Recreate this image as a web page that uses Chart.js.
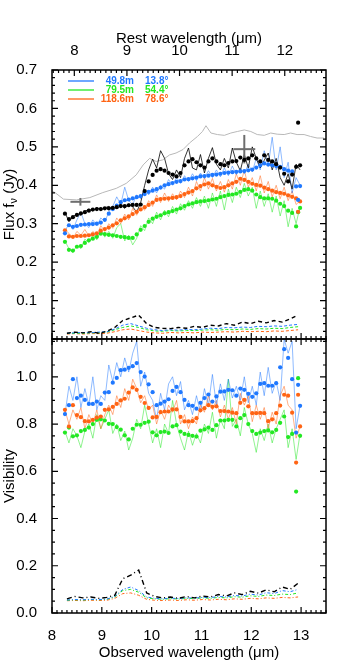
<!doctype html>
<html lang="en">
  <head>
    <meta charset="utf-8">
    <title>Flux and visibility spectra</title>
    <style>
      * { margin: 0; padding: 0; }
      body { background: white; }
      .chartBox { width: 343px; height: 668px; }
    </style>
  </head>
  <body>
    <div class="chartBox">
      <canvas id="specChart" width="343" height="668"></canvas>
    </div>
    <script src="https://cdn.jsdelivr.net/npm/chart.js"></script>
    <script>
    // observed wavelength grid (micron) for the spectra
    const lam = [8.26, 8.34, 8.42, 8.50, 8.58, 8.66, 8.74, 8.82, 8.90, 8.98,
      9.06, 9.14, 9.22, 9.30, 9.38, 9.46, 9.54, 9.62, 9.70, 9.78,
      9.86, 9.94, 10.02, 10.10, 10.18, 10.26, 10.34, 10.42, 10.50, 10.58,
      10.66, 10.74, 10.82, 10.90, 10.98, 11.06, 11.14, 11.22, 11.30, 11.38,
      11.46, 11.54, 11.62, 11.70, 11.78, 11.86, 11.94, 12.02, 12.10, 12.18,
      12.26, 12.34, 12.42, 12.50, 12.58, 12.66, 12.74, 12.82, 12.90, 12.98];
    const tailLam = [12.94];

    // correlated / total flux, smoothed (dots)
    const fluxBlack = [0.326, 0.312, 0.317, 0.323, 0.327, 0.330, 0.334, 0.337, 0.338, 0.338,
      0.340, 0.340, 0.341, 0.343, 0.346, 0.346, 0.348, 0.349, 0.349, 0.350,
      0.385, 0.410, 0.427, 0.438, 0.442, 0.438, 0.432, 0.428, 0.423, 0.432,
      0.452, 0.462, 0.468, 0.460, 0.452, 0.446, 0.462, 0.470, 0.462, 0.455,
      0.452, 0.458, 0.462, 0.463, 0.472, 0.466, 0.470, 0.478, 0.470, 0.462,
      0.478, 0.466, 0.462, 0.455, 0.446, 0.430, 0.410, 0.428, 0.448, 0.452];
    const fluxBlue = [0.275, 0.296, 0.292, 0.294, 0.297, 0.298, 0.299, 0.299, 0.300, 0.303,
      0.310, 0.326, 0.338, 0.347, 0.356, 0.361, 0.363, 0.366, 0.369, 0.372,
      0.377, 0.383, 0.386, 0.390, 0.394, 0.400, 0.403, 0.406, 0.409, 0.411,
      0.415, 0.416, 0.418, 0.420, 0.423, 0.424, 0.425, 0.427, 0.428, 0.430,
      0.432, 0.433, 0.434, 0.435, 0.436, 0.437, 0.439, 0.441, 0.446, 0.452,
      0.457, 0.454, 0.452, 0.450, 0.448, 0.442, 0.438, 0.436, 0.397, 0.398];
    const fluxGreen = [0.253, 0.232, 0.230, 0.240, 0.242, 0.250, 0.257, 0.261, 0.266, 0.274,
      0.273, 0.271, 0.270, 0.268, 0.266, 0.265, 0.263, 0.263, 0.272, 0.284,
      0.294, 0.305, 0.313, 0.318, 0.322, 0.327, 0.330, 0.333, 0.337, 0.340,
      0.346, 0.350, 0.353, 0.356, 0.358, 0.359, 0.361, 0.363, 0.365, 0.369,
      0.372, 0.375, 0.376, 0.378, 0.383, 0.388, 0.390, 0.386, 0.376, 0.369,
      0.366, 0.366, 0.365, 0.360, 0.352, 0.346, 0.334, 0.328, 0.293, 0.341];
    const fluxOrange = [0.283, 0.267, 0.266, 0.268, 0.268, 0.269, 0.270, 0.272, 0.275, 0.282,
      0.286, 0.290, 0.296, 0.301, 0.309, 0.314, 0.319, 0.325, 0.331, 0.337,
      0.343, 0.349, 0.355, 0.362, 0.364, 0.365, 0.366, 0.367, 0.369, 0.372,
      0.377, 0.381, 0.385, 0.392, 0.398, 0.402, 0.405, 0.400, 0.396, 0.393,
      0.395, 0.400, 0.405, 0.409, 0.417, 0.414, 0.409, 0.404, 0.401, 0.399,
      0.394, 0.390, 0.386, 0.382, 0.380, 0.378, 0.374, 0.370, 0.366, 0.358];
    const tailFluxBlack = [0.563];
    const tailFluxBlue = [0.362];
    const tailFluxGreen = [0.330];
    const tailFluxOrange = [0.331];

    // unsmoothed flux (thin lines)
    const rawFluxBlack = [0.330, 0.305, 0.318, 0.326, 0.322, 0.332, 0.338, 0.333, 0.342, 0.336,
      0.341, 0.345, 0.337, 0.346, 0.350, 0.340, 0.352, 0.344, 0.330, 0.355,
      0.400, 0.440, 0.468, 0.445, 0.490, 0.470, 0.430, 0.415, 0.440, 0.420,
      0.470, 0.497, 0.445, 0.440, 0.480, 0.432, 0.470, 0.498, 0.455, 0.440,
      0.470, 0.445, 0.497, 0.460, 0.438, 0.480, 0.445, 0.500, 0.470, 0.445,
      0.465, 0.484, 0.440, 0.470, 0.420, 0.400, 0.430, 0.390, 0.455, 0.440];
    const rawFluxBlue = [0.280, 0.300, 0.285, 0.310, 0.330, 0.300, 0.290, 0.310, 0.295, 0.315,
      0.305, 0.330, 0.345, 0.370, 0.350, 0.395, 0.360, 0.350, 0.375, 0.365,
      0.390, 0.375, 0.395, 0.380, 0.400, 0.390, 0.415, 0.400, 0.420, 0.405,
      0.425, 0.410, 0.430, 0.412, 0.432, 0.418, 0.438, 0.420, 0.440, 0.422,
      0.445, 0.425, 0.450, 0.428, 0.445, 0.430, 0.455, 0.435, 0.470, 0.440,
      0.490, 0.450, 0.525, 0.440, 0.500, 0.420, 0.460, 0.380, 0.420, 0.400];
    const rawFluxGreen = [0.255, 0.235, 0.225, 0.245, 0.235, 0.260, 0.250, 0.272, 0.258, 0.285,
      0.265, 0.280, 0.262, 0.290, 0.300, 0.255, 0.270, 0.245, 0.262, 0.295,
      0.282, 0.315, 0.300, 0.330, 0.310, 0.335, 0.318, 0.345, 0.325, 0.352,
      0.335, 0.360, 0.340, 0.368, 0.345, 0.372, 0.340, 0.380, 0.345, 0.385,
      0.336, 0.390, 0.355, 0.395, 0.368, 0.405, 0.372, 0.395, 0.340, 0.385,
      0.345, 0.378, 0.330, 0.372, 0.320, 0.360, 0.292, 0.340, 0.300, 0.345];
    const rawFluxOrange = [0.285, 0.275, 0.262, 0.280, 0.270, 0.285, 0.268, 0.280, 0.270, 0.295,
      0.280, 0.300, 0.288, 0.315, 0.300, 0.325, 0.310, 0.340, 0.322, 0.345,
      0.335, 0.360, 0.345, 0.375, 0.355, 0.380, 0.358, 0.378, 0.362, 0.385,
      0.368, 0.395, 0.372, 0.410, 0.385, 0.420, 0.390, 0.418, 0.385, 0.410,
      0.382, 0.415, 0.390, 0.430, 0.400, 0.440, 0.395, 0.420, 0.385, 0.425,
      0.380, 0.410, 0.370, 0.400, 0.365, 0.395, 0.360, 0.385, 0.350, 0.360];

    // single-dish spectrum (grey line) and two reference photometry points
    const grayLam = [8.00, 8.06, 8.23, 8.49, 8.76, 9.02, 9.29, 9.49, 9.69, 9.83,
      9.96, 10.09, 10.22, 10.36, 10.49, 10.63, 10.76, 10.92, 11.02, 11.09,
      11.19, 11.32, 11.46, 11.59, 11.72, 11.86, 11.99, 12.12, 12.26, 12.39,
      12.52, 12.66, 12.79, 12.92, 13.06, 13.19, 13.32, 13.46];
    const grayFlux = [0.385, 0.381, 0.364, 0.362, 0.368, 0.381, 0.392, 0.405, 0.427, 0.453,
      0.470, 0.462, 0.466, 0.479, 0.484, 0.493, 0.510, 0.527, 0.540, 0.555,
      0.536, 0.532, 0.530, 0.536, 0.540, 0.544, 0.540, 0.532, 0.530, 0.536,
      0.533, 0.532, 0.536, 0.532, 0.532, 0.527, 0.523, 0.523];
    const crossLam = [8.57, 11.86];
    const crossFlux = [0.357, 0.494];
    const crossLamErr = [0.20, 0.22];
    const crossFluxErr = [0.010, 0.037];

    // uncertainties on a coarser grid
    const errLam = [8.30, 8.46, 8.62, 8.78, 8.94, 9.10, 9.26, 9.42, 9.58, 9.74,
      9.90, 10.06, 10.22, 10.38, 10.54, 10.70, 10.86, 11.02, 11.18, 11.34,
      11.50, 11.66, 11.82, 11.98, 12.14, 12.30, 12.46, 12.62, 12.78, 12.94];
    const fluxErrBlack = [0.015, 0.018, 0.016, 0.019, 0.015, 0.020, 0.030, 0.048, 0.055, 0.062,
      0.040, 0.030, 0.028, 0.027, 0.030, 0.028, 0.033, 0.030, 0.036, 0.034,
      0.040, 0.036, 0.044, 0.040, 0.046, 0.042, 0.048, 0.044, 0.052, 0.062];
    const fluxErrBlue = [0.015, 0.016, 0.017, 0.016, 0.018, 0.019, 0.026, 0.036, 0.040, 0.034,
      0.028, 0.024, 0.022, 0.024, 0.023, 0.025, 0.024, 0.026, 0.028, 0.027,
      0.030, 0.029, 0.031, 0.030, 0.033, 0.032, 0.034, 0.033, 0.036, 0.038];
    const fluxErrGreen = [0.014, 0.015, 0.015, 0.016, 0.016, 0.018, 0.024, 0.030, 0.034, 0.030,
      0.024, 0.021, 0.020, 0.022, 0.021, 0.022, 0.022, 0.023, 0.024, 0.023,
      0.025, 0.024, 0.026, 0.025, 0.027, 0.026, 0.028, 0.027, 0.030, 0.032];
    const fluxErrOrange = [0.013, 0.014, 0.013, 0.014, 0.014, 0.015, 0.019, 0.024, 0.026, 0.022,
      0.018, 0.016, 0.015, 0.017, 0.016, 0.017, 0.016, 0.018, 0.017, 0.018,
      0.019, 0.018, 0.020, 0.019, 0.020, 0.019, 0.021, 0.020, 0.022, 0.024];

    // visibilities, smoothed (dots)
    const visBlue = [0.842, 0.880, 0.990, 0.910, 0.920, 0.902, 0.885, 0.885, 0.895, 0.885,
      0.933, 0.935, 0.975, 0.995, 1.028, 1.030, 1.038, 1.045, 1.058, 1.020,
      1.001, 0.968, 0.935, 0.880, 0.886, 0.895, 0.905, 0.940, 0.957, 0.935,
      0.902, 0.880, 0.877, 0.865, 0.890, 0.910, 0.925, 0.895, 0.917, 0.937,
      0.938, 0.945, 0.943, 0.920, 0.950, 0.945, 0.928, 0.915, 0.930, 0.970,
      0.973, 0.962, 0.962, 0.973, 1.040, 1.117, 1.080, 0.990, 0.764, 0.877];
    const visGreen = [0.764, 0.785, 0.748, 0.752, 0.770, 0.775, 0.785, 0.800, 0.818, 0.820,
      0.815, 0.801, 0.800, 0.787, 0.776, 0.752, 0.735, 0.780, 0.797, 0.797,
      0.805, 0.810, 0.765, 0.752, 0.766, 0.768, 0.762, 0.790, 0.795, 0.768,
      0.758, 0.754, 0.750, 0.747, 0.772, 0.777, 0.785, 0.775, 0.795, 0.815,
      0.815, 0.818, 0.818, 0.790, 0.825, 0.838, 0.800, 0.770, 0.758, 0.764,
      0.770, 0.773, 0.765, 0.775, 0.805, 0.832, 0.745, 0.758, 0.514, 0.750];
    const visOrange = [0.860, 0.790, 0.880, 0.838, 0.829, 0.812, 0.811, 0.818, 0.827, 0.832,
      0.860, 0.862, 0.873, 0.885, 0.900, 0.907, 0.933, 0.955, 0.945, 0.915,
      0.889, 0.868, 0.828, 0.830, 0.850, 0.853, 0.853, 0.862, 0.862, 0.830,
      0.811, 0.811, 0.812, 0.825, 0.858, 0.867, 0.880, 0.873, 0.875, 0.855,
      0.855, 0.853, 0.848, 0.846, 0.890, 0.902, 0.875, 0.846, 0.846, 0.847,
      0.846, 0.812, 0.820, 0.846, 0.878, 0.924, 0.920, 0.848, 0.637, 0.790];
    const tailVisBlue = [0.966];
    const tailVisGreen = [0.994];
    const tailVisOrange = [0.924];

    // unsmoothed visibilities (thin lines)
    const rawVisBlue = [0.84, 0.96, 0.90, 1.00, 0.87, 0.95, 0.88, 1.00, 0.86, 0.92,
      0.90, 1.05, 0.98, 1.06, 1.00, 1.08, 1.02, 1.10, 1.15, 0.96,
      1.02, 0.93, 0.90, 0.82, 0.93, 0.86, 0.97, 1.00, 0.92, 0.98,
      0.86, 0.90, 0.84, 0.92, 0.85, 0.95, 0.88, 1.01, 0.88, 0.97,
      0.90, 0.99, 0.91, 0.96, 0.90, 1.00, 0.89, 0.96, 0.88, 1.02,
      0.92, 1.04, 0.93, 0.98, 0.90, 1.16, 1.10, 1.15, 0.78, 0.88];
    const rawVisGreen = [0.77, 0.72, 0.78, 0.75, 0.70, 0.77, 0.80, 0.74, 0.84, 0.78,
      0.82, 0.86, 0.76, 0.80, 0.73, 0.77, 0.69, 0.74, 0.82, 0.78,
      0.88, 0.80, 0.72, 0.78, 0.70, 0.80, 0.76, 0.90, 0.80, 0.74,
      0.69, 0.77, 0.71, 0.76, 0.72, 0.80, 0.76, 0.85, 0.74, 0.82,
      0.78, 0.99, 0.79, 0.82, 0.75, 0.87, 0.80, 0.76, 0.68, 0.78,
      0.73, 0.80, 0.72, 0.78, 0.82, 0.86, 0.70, 0.78, 0.65, 0.76];
    const rawVisOrange = [0.86, 0.80, 0.86, 0.82, 0.87, 0.78, 0.84, 0.80, 0.86, 0.78,
      0.84, 0.88, 0.84, 0.92, 0.87, 0.95, 0.90, 0.99, 0.95, 0.89,
      0.92, 0.86, 0.88, 0.80, 0.86, 0.82, 0.88, 0.85, 0.90, 0.80,
      0.84, 0.78, 0.83, 0.80, 0.88, 0.85, 0.92, 0.86, 0.90, 0.83,
      0.88, 0.82, 0.87, 0.80, 0.93, 0.88, 0.92, 0.81, 0.88, 0.82,
      0.87, 0.78, 0.85, 0.80, 0.92, 0.96, 0.88, 0.86, 0.74, 0.79];

    const visErrBlack = [0.060, 0.070, 0.064, 0.068, 0.062, 0.066, 0.075, 0.145, 0.160, 0.182,
      0.085, 0.070, 0.064, 0.068, 0.062, 0.070, 0.064, 0.072, 0.068, 0.078,
      0.072, 0.085, 0.078, 0.092, 0.084, 0.098, 0.090, 0.110, 0.100, 0.126];
    const visErrBlue = [0.055, 0.057, 0.056, 0.058, 0.057, 0.059, 0.070, 0.100, 0.110, 0.095,
      0.068, 0.062, 0.060, 0.063, 0.061, 0.064, 0.063, 0.066, 0.065, 0.070,
      0.068, 0.074, 0.072, 0.080, 0.076, 0.086, 0.082, 0.095, 0.090, 0.100];
    const visErrGreen = [0.054, 0.056, 0.055, 0.057, 0.056, 0.058, 0.068, 0.095, 0.100, 0.088,
      0.064, 0.060, 0.058, 0.061, 0.059, 0.062, 0.061, 0.064, 0.062, 0.066,
      0.064, 0.069, 0.067, 0.073, 0.070, 0.076, 0.074, 0.080, 0.078, 0.085];
    const visErrOrange = [0.052, 0.053, 0.052, 0.054, 0.053, 0.054, 0.062, 0.082, 0.085, 0.075,
      0.058, 0.054, 0.053, 0.055, 0.053, 0.056, 0.054, 0.057, 0.055, 0.058,
      0.056, 0.060, 0.058, 0.062, 0.060, 0.064, 0.062, 0.066, 0.064, 0.068];

    // legend: baseline length and position angle
    const baseLabels = ['49.8m', '79.5m', '118.6m'];
    const angleLabels = ['13.8°', '54.4°', '78.6°'];

    const redshift = 1.056;
    const BLUE = '#1f78ff', GREEN = '#22e822', ORANGE = '#ff6414';
    const legendColors = [BLUE, GREEN, ORANGE];
    const FONT = '"Liberation Sans", Arial, sans-serif';

    const pts = (xs, ys) => xs.map((x, i) => ({x: x, y: ys[i]}));

    function dots(xs, ys, color, axis) {
      return {type: 'scatter', data: pts(xs, ys), xAxisID: 'x', yAxisID: axis,
        showLine: false, pointRadius: 2.1, pointBorderWidth: 0,
        backgroundColor: color, borderColor: color};
    }
    function trace(xs, ys, color, axis, width, dash) {
      return {type: 'line', data: pts(xs, ys), xAxisID: 'x', yAxisID: axis,
        borderColor: color, borderWidth: width, borderDash: dash || [],
        pointRadius: 0, fill: false, tension: 0};
    }

    const datasets = [
      dots(lam.concat(tailLam), fluxBlack.concat(tailFluxBlack), '#000', 'yF'),
      dots(lam.concat(tailLam), fluxBlue.concat(tailFluxBlue), BLUE, 'yF'),
      dots(lam.concat(tailLam), fluxOrange.concat(tailFluxOrange), ORANGE, 'yF'),
      dots(lam.concat(tailLam), fluxGreen.concat(tailFluxGreen), GREEN, 'yF'),
      dots(lam.concat(tailLam), visBlue.concat(tailVisBlue), BLUE, 'yV'),
      dots(lam.concat(tailLam), visOrange.concat(tailVisOrange), ORANGE, 'yV'),
      dots(lam.concat(tailLam), visGreen.concat(tailVisGreen), GREEN, 'yV')
    ];
    // photometry crosses
    crossLam.forEach((c, i) => {
      datasets.push(trace([c - crossLamErr[i], c + crossLamErr[i]], [crossFlux[i], crossFlux[i]], '#6e6e6e', 'yF', 2));
      datasets.push(trace([c, c], [crossFlux[i] - crossFluxErr[i], crossFlux[i] + crossFluxErr[i]], '#6e6e6e', 'yF', 2));
    });
    datasets.push(
      trace(lam, rawFluxBlack, '#000', 'yF', 0.8),
      trace(lam, rawFluxBlue, 'rgba(31,120,255,0.5)', 'yF', 1),
      trace(lam, rawFluxOrange, 'rgba(255,100,20,0.5)', 'yF', 1),
      trace(lam, rawFluxGreen, 'rgba(34,232,34,0.5)', 'yF', 1),
      trace(lam, rawVisBlue, 'rgba(31,120,255,0.5)', 'yV', 1),
      trace(lam, rawVisOrange, 'rgba(255,100,20,0.5)', 'yV', 1),
      trace(lam, rawVisGreen, 'rgba(34,232,34,0.5)', 'yV', 1),
      trace(errLam, fluxErrBlack, '#000', 'yF', 1.4, [4, 3]),
      trace(errLam, fluxErrBlue, BLUE, 'yF', 1, [3, 2]),
      trace(errLam, fluxErrGreen, GREEN, 'yF', 1, [3, 2]),
      trace(errLam, fluxErrOrange, ORANGE, 'yF', 1, [3, 2]),
      trace(errLam, visErrBlack, '#000', 'yV', 1.4, [5, 3, 1, 3]),
      trace(errLam, visErrBlue, BLUE, 'yV', 1, [3, 2, 1, 2]),
      trace(errLam, visErrGreen, GREEN, 'yV', 1, [3, 2, 1, 2]),
      trace(errLam, visErrOrange, ORANGE, 'yV', 1, [3, 2, 1, 2]),
      trace(grayLam, grayFlux, '#b8b8b8', 'yF', 1)
    );

    // frame, inward ticks, legend and y titles in the IDL look
    const idlAxes = {
      id: 'idlAxes',
      afterDatasetsDraw(chart) {
        const {ctx, chartArea: a} = chart;
        const {x, xTop, yF, yV} = chart.scales;
        ctx.save();
        ctx.strokeStyle = '#000';
        ctx.lineWidth = 1.2;
        ctx.beginPath();
        const yTicks = (scale, minor, every, count) => {
          for (let k = 0; k <= count; k++) {
            const py = scale.getPixelForValue(k * minor);
            const len = k % every === 0 ? 6 : 3;
            ctx.moveTo(a.left, py); ctx.lineTo(a.left + len, py);
            ctx.moveTo(a.right, py); ctx.lineTo(a.right - len, py);
          }
        };
        yTicks(yF, 0.02, 5, 35);
        yTicks(yV, 0.05, 4, 23);
        for (let k = 80; k <= 135; k++) {
          const px = x.getPixelForValue(k / 10);
          const len = k % 10 === 0 ? 6 : 3;
          ctx.moveTo(px, yF.bottom); ctx.lineTo(px, yF.bottom - len);
          ctx.moveTo(px, yV.top); ctx.lineTo(px, yV.top + len);
          ctx.moveTo(px, yV.bottom); ctx.lineTo(px, yV.bottom - len);
        }
        for (let k = 75; k <= 128; k++) {
          const px = xTop.getPixelForValue(k / 10);
          if (px < a.left || px > a.right) continue;
          const len = k % 10 === 0 ? 6 : 3;
          ctx.moveTo(px, yF.top); ctx.lineTo(px, yF.top + len);
        }
        ctx.stroke();
        ctx.lineWidth = 1.5;
        ctx.strokeRect(a.left, yF.top, a.right - a.left, yF.bottom - yF.top);
        ctx.strokeRect(a.left, yV.top, a.right - a.left, yV.bottom - yV.top);

        // legend
        ctx.font = 'bold 10px ' + FONT;
        ctx.textBaseline = 'middle';
        baseLabels.forEach((lab, i) => {
          const ly = yF.top + 11 + 9 * i;
          ctx.strokeStyle = legendColors[i];
          ctx.fillStyle = legendColors[i];
          ctx.lineWidth = 1.3;
          ctx.beginPath();
          ctx.moveTo(a.left + 16, ly); ctx.lineTo(a.left + 42, ly);
          ctx.stroke();
          ctx.textAlign = 'right';
          ctx.fillText(lab, a.left + 82, ly);
          ctx.textAlign = 'left';
          ctx.fillText(angleLabels[i], a.left + 93, ly);
        });

        // y titles
        ctx.fillStyle = '#000';
        ctx.save();
        ctx.translate(10, (yF.top + yF.bottom) / 2);
        ctx.rotate(-Math.PI / 2);
        ctx.font = '15px ' + FONT;
        const t1 = 'Flux f', t3 = ' (Jy)';
        const w1 = ctx.measureText(t1).width, w3 = ctx.measureText(t3).width;
        ctx.font = '11px ' + FONT;
        const w2 = ctx.measureText('ν').width;
        let sx = -(w1 + w2 + w3) / 2;
        ctx.textAlign = 'left';
        ctx.font = '15px ' + FONT;
        ctx.fillText(t1, sx, 0);
        ctx.font = '11px ' + FONT;
        ctx.fillText('ν', sx + w1, 4);
        ctx.font = '15px ' + FONT;
        ctx.fillText(t3, sx + w1 + w2, 0);
        ctx.restore();
        ctx.save();
        ctx.translate(10, (yV.top + yV.bottom) / 2);
        ctx.rotate(-Math.PI / 2);
        ctx.font = '15px ' + FONT;
        ctx.textAlign = 'center';
        ctx.fillText('Visibility', 0, 0);
        ctx.restore();
        ctx.restore();
      }
    };

    Chart.defaults.font.family = FONT;
    Chart.defaults.font.size = 15;
    Chart.defaults.color = '#000';

    const noGrid = {display: false};
    new Chart(document.getElementById('specChart'), {
      type: 'line',
      data: {datasets},
      options: {
        responsive: false,
        animation: false,
        devicePixelRatio: 1,
        layout: {padding: {left: 0, right: 17, top: 0, bottom: 0}},
        plugins: {legend: {display: false}, tooltip: {enabled: false}},
        scales: {
          x: {
            type: 'linear', position: 'bottom', min: 8, max: 13.5,
            grid: noGrid, border: {display: false},
            ticks: {stepSize: 1, padding: 6, includeBounds: false},
            title: {display: true, text: 'Observed wavelength (μm)', padding: {top: 0, bottom: 6}},
            afterFit: s => { s.height = 55; }
          },
          xTop: {
            type: 'linear', position: 'top', min: 8 / redshift, max: 13.5 / redshift,
            grid: noGrid, border: {display: false},
            ticks: {stepSize: 1, padding: 2, includeBounds: false},
            title: {display: true, text: 'Rest wavelength (μm)', padding: {top: 30, bottom: 0}},
            afterFit: s => { s.height = 70; }
          },
          yF: {
            type: 'linear', position: 'left', stack: 'panels', stackWeight: 269, weight: 2,
            min: 0, max: 0.7, grid: noGrid, border: {display: false},
            ticks: {stepSize: 0.1, padding: 7, includeBounds: false, callback: v => v.toFixed(1)},
            afterFit: s => { s.width = 52; }
          },
          yV: {
            type: 'linear', position: 'left', stack: 'panels', stackWeight: 274, weight: 1,
            min: 0, max: 1.16, grid: noGrid, border: {display: false},
            ticks: {stepSize: 0.2, padding: 7, includeBounds: false, callback: v => v.toFixed(1)},
            afterFit: s => { s.width = 52; }
          }
        }
      },
      plugins: [idlAxes]
    });
    </script>
  </body>
</html>
